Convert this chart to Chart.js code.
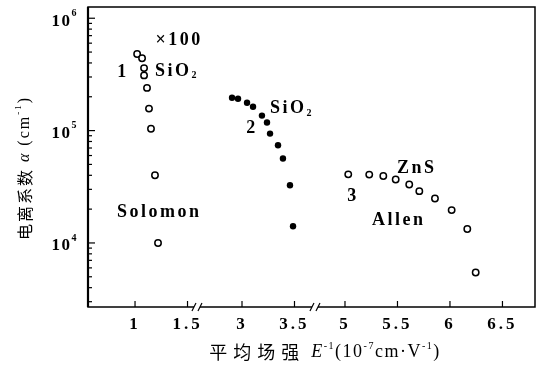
<!DOCTYPE html>
<html>
<head>
<meta charset="utf-8">
<script src="https://cdn.jsdelivr.net/npm/chart.js@4"></script>
<style>
  html, body { margin: 0; padding: 0; background: #fff; }
  #wrap { width: 541px; height: 366px; }
</style>
</head>
<body>
<div id="wrap"><canvas id="chart"></canvas></div>
<script>
// curve 1: SiO2 (x100), Solomon
const solomonX = [1.02, 1.067, 1.086, 1.086, 1.114, 1.133, 1.152, 1.19, 1.219];
const solomonY = [4.8e5, 4.4e5, 3.6e5, 3.1e5, 2.4e5, 1.57e5, 1.04e5, 4.0e4, 1.0e4];
// curve 2: SiO2
const sio2X = [2.905, 2.962, 3.048, 3.105, 3.19, 3.238, 3.267, 3.343, 3.39, 3.457, 3.486];
const sio2Y = [1.96e5, 1.92e5, 1.77e5, 1.63e5, 1.36e5, 1.18e5, 9.4e4, 7.4e4, 5.65e4, 3.26e4, 1.41e4];
// curve 3: ZnS, Allen
const znsX = [5.031, 5.231, 5.365, 5.483, 5.612, 5.708, 5.857, 6.016, 6.165, 6.245];
const znsY = [4.08e4, 4.06e4, 3.94e4, 3.67e4, 3.31e4, 2.89e4, 2.49e4, 1.96e4, 1.33e4, 5.46e3];

const xTickValues = [1, 1.5, 3, 3.5, 5, 5.5, 6, 6.5];
const yTickValues = [1e4, 1e5, 1e6];
const xBreaks = [1.59, 3.695];

// broken x axis: each piece is shifted so the gaps collapse
const segments = [
  { upTo: 2, shift: 0 },
  { upTo: 4, shift: 0.981 },
  { upTo: 8, shift: 2.0 }
];
function toAxis(x) {
  let seg = segments.find(s => x < s.upTo) || segments[segments.length - 1];
  return x - seg.shift;
}

const notes = [
  { runs: [{ t: "×100" }], x: 1.419, y: 6.3e5, align: "center" },
  { runs: [{ t: "1" }], x: 0.886, y: 3.28e5, align: "center" },
  { runs: [{ t: "SiO" }, { t: "2", sub: true }], x: 1.19, y: 3.4e5, align: "left" },
  { runs: [{ t: "2" }], x: 3.095, y: 1.04e5, align: "center" },
  { runs: [{ t: "SiO" }, { t: "2", sub: true }], x: 3.267, y: 1.57e5, align: "left" },
  { runs: [{ t: "ZnS" }], x: 5.495, y: 4.6e4, align: "left" },
  { runs: [{ t: "3" }], x: 5.076, y: 2.6e4, align: "center" },
  { runs: [{ t: "Allen" }], x: 5.257, y: 1.6e4, align: "left" },
  { runs: [{ t: "Solomon" }], x: 0.829, y: 1.88e4, align: "left" }
];

const SERIF = '"Liberation Serif", "DejaVu Serif", serif';
const CJK = '"Noto Sans CJK SC", sans-serif';

function pts(xs, ys) {
  return xs.map((x, i) => ({ x: toAxis(x), y: ys[i] }));
}

// draws a list of text runs, with small raised / lowered parts
function drawRuns(ctx, runs, x, y, align, base) {
  let parts = runs.map(r => {
    let size = (r.sup || r.sub) ? base.small : (r.size || base.size);
    let font = (r.italic ? "italic " : "") + base.weight + " " + size + "px " + (r.cjk ? CJK : SERIF);
    ctx.font = font;
    ctx.letterSpacing = (r.cjk ? base.cjkSpacing : base.spacing) + "px";
    let w = ctx.measureText(r.t).width;
    return { r, font, w, spacing: ctx.letterSpacing };
  });
  let total = parts.reduce((s, p) => s + p.w, 0);
  let cx = align === "center" ? x - total / 2 : align === "right" ? x - total : x;
  ctx.textBaseline = "middle";
  ctx.textAlign = "left";
  parts.forEach(p => {
    ctx.font = p.font;
    ctx.letterSpacing = p.spacing;
    let dy = p.r.sup ? -base.raise : p.r.sub ? base.lower : 0;
    ctx.fillText(p.r.t, cx, y + dy);
    cx += p.w;
  });
  ctx.letterSpacing = "0px";
}

const decorations = {
  id: "decorations",
  afterDraw(chart) {
    const { ctx, chartArea: a, scales: { x, y } } = chart;
    ctx.save();
    ctx.fillStyle = "#000";
    ctx.strokeStyle = "#000";

    // frame
    ctx.lineWidth = 1.5;
    ctx.strokeRect(a.left, a.top, a.right - a.left, a.bottom - a.top);
    ctx.lineWidth = 2.2;
    ctx.beginPath();
    ctx.moveTo(a.left, a.top);
    ctx.lineTo(a.left, a.bottom);
    ctx.stroke();

    // y ticks (inside), log minors
    ctx.lineWidth = 1.2;
    for (let k = 3; k <= 6; k++) {
      for (let m = 1; m <= 9; m++) {
        let v = m * Math.pow(10, k);
        if (v < y.min || v > y.max) continue;
        let py = y.getPixelForValue(v);
        let len = m === 1 ? 7 : 4;
        ctx.beginPath();
        ctx.moveTo(a.left, py);
        ctx.lineTo(a.left + len, py);
        ctx.stroke();
      }
    }

    // y labels
    yTickValues.forEach(v => {
      let py = y.getPixelForValue(v);
      drawRuns(ctx, [{ t: "10" }, { t: String(Math.round(Math.log10(v))), sup: true }], 78, py + 3, "right",
        { size: 17, small: 10, weight: "bold", spacing: 1.5, cjkSpacing: 0, raise: 8, lower: 4 });
    });

    // x ticks and labels
    xTickValues.forEach(v => {
      let px = x.getPixelForValue(toAxis(v));
      ctx.lineWidth = 1.2;
      ctx.beginPath();
      ctx.moveTo(px, a.bottom);
      ctx.lineTo(px, a.bottom - 6);
      ctx.stroke();
      drawRuns(ctx, [{ t: String(v) }], px, a.bottom + 18, "center",
        { size: 17, small: 10, weight: "bold", spacing: 3, cjkSpacing: 0, raise: 6, lower: 4 });
    });

    // axis breaks
    xBreaks.forEach(b => {
      let px = x.getPixelForValue(toAxis(b));
      ctx.fillStyle = "#fff";
      ctx.fillRect(px - 3, a.bottom - 2, 6, 4);
      ctx.fillStyle = "#000";
      ctx.lineWidth = 1.2;
      [-3, 3].forEach(d => {
        ctx.beginPath();
        ctx.moveTo(px + d - 2, a.bottom + 4);
        ctx.lineTo(px + d + 2, a.bottom - 4);
        ctx.stroke();
      });
    });

    // curve labels
    notes.forEach(n => {
      let px = x.getPixelForValue(toAxis(n.x));
      let py = y.getPixelForValue(n.y);
      drawRuns(ctx, n.runs, px, py, n.align,
        { size: 18, small: 10, weight: "bold", spacing: 2.5, cjkSpacing: 0, raise: 6, lower: 5 });
    });

    // x title
    drawRuns(ctx, [
      { t: "平均场强", cjk: true, size: 18 },
      { t: " " },
      { t: "E", italic: true },
      { t: "-1", sup: true },
      { t: "(10" },
      { t: "-7", sup: true },
      { t: "cm·V" },
      { t: "-1", sup: true },
      { t: ")" }
    ], 325, 352, "center",
      { size: 18, small: 10, weight: "normal", spacing: 1.5, cjkSpacing: 6, raise: 6, lower: 4 });

    // y title
    ctx.translate(25, 168);
    ctx.rotate(-Math.PI / 2);
    drawRuns(ctx, [
      { t: "电离系数", cjk: true, size: 16 },
      { t: " " },
      { t: "α", italic: true },
      { t: " (cm" },
      { t: "-1", sup: true },
      { t: ")" }
    ], 0, 0, "center",
      { size: 16, small: 9, weight: "normal", spacing: 2, cjkSpacing: 2, raise: 6, lower: 4 });

    ctx.restore();
  }
};

const openPoint = { pointRadius: 3.2, pointBorderWidth: 1.5, pointBackgroundColor: "#fff", pointBorderColor: "#000" };

new Chart(document.getElementById("chart"), {
  type: "scatter",
  data: {
    datasets: [
      Object.assign({ label: "1 SiO2 x100 (Solomon)", data: pts(solomonX, solomonY) }, openPoint),
      {
        label: "2 SiO2",
        data: pts(sio2X, sio2Y),
        pointRadius: 3.2,
        pointBorderWidth: 0,
        pointBackgroundColor: "#000",
        pointBorderColor: "#000"
      },
      Object.assign({ label: "3 ZnS (Allen)", data: pts(znsX, znsY) }, openPoint)
    ]
  },
  options: {
    responsive: true,
    maintainAspectRatio: false,
    animation: false,
    events: [],
    layout: { padding: { left: 0, top: 7, right: 6, bottom: 0 } },
    plugins: { legend: { display: false }, tooltip: { enabled: false } },
    scales: {
      x: {
        type: "linear",
        min: 0.552,
        max: 4.81,
        grid: { display: false },
        border: { display: false },
        ticks: { display: false },
        afterFit: s => { s.height = 59; }
      },
      y: {
        type: "logarithmic",
        min: Math.pow(10, 3.43),
        max: Math.pow(10, 6.1),
        grid: { display: false },
        border: { display: false },
        ticks: { display: false },
        afterFit: s => { s.width = 88; }
      }
    }
  },
  plugins: [decorations]
});
</script>
</body>
</html>
